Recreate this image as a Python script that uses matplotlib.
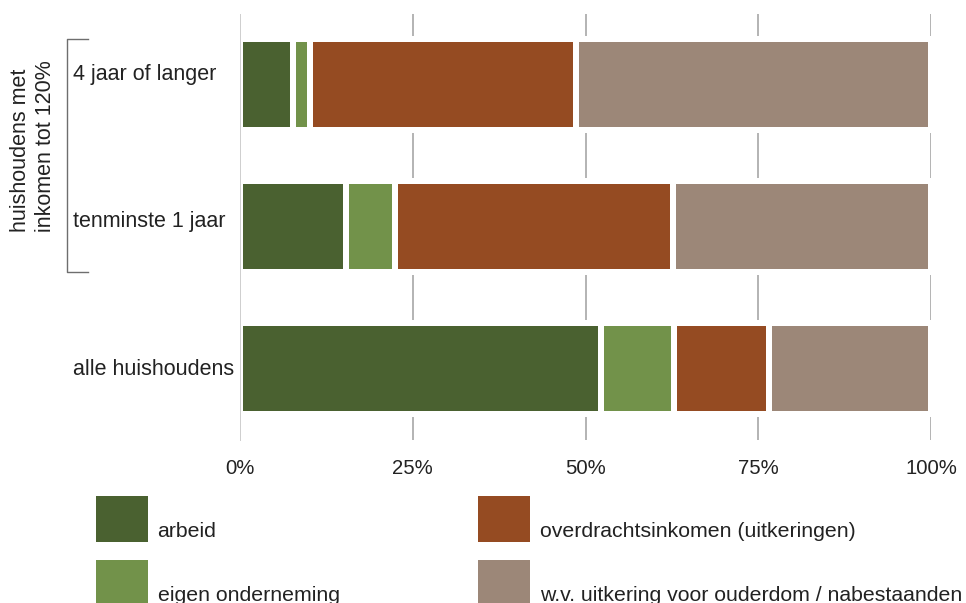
import matplotlib
matplotlib.use('Agg')
import matplotlib.pyplot as plt
from matplotlib.patches import Rectangle
from matplotlib.lines import Line2D

# ---- data ----
categories = ['4 jaar of langer', 'tenminste 1 jaar', 'alle huishoudens']
series_names = ['arbeid', 'eigen onderneming',
                'overdrachtsinkomen (uitkeringen)',
                'w.v. uitkering voor ouderdom / nabestaanden']
arbeid = [7.6, 15.3, 52.2]
eigen = [2.6, 7.1, 10.6]
overdracht = [38.4, 40.3, 13.8]
ouderdom = [51.4, 37.3, 23.4]
xticks = [0, 25, 50, 75, 100]
xtick_labels = ['0%', '25%', '50%', '75%', '100%']
group_label = 'huishoudens met\ninkomen tot 120%'

# ---- style ----
colors = ['#4a6130', '#72924a', '#954b22', '#9c8778']
plt.rcParams['font.family'] = ['Liberation Sans', 'DejaVu Sans']
TXT = '#222222'
W, H = 966, 603
PX = 72 / 100  # points per pixel

fig = plt.figure(figsize=(W / 100, H / 100), dpi=100)
ax = fig.add_axes([240 / W, 1 - 439.5 / H, 691 / W, 426 / H])

ypos = list(range(len(categories)))
bar_h = 0.634
series = [arbeid, eigen, overdracht, ouderdom]
left = [0.0] * len(categories)
for vals, col, name in zip(series, colors, series_names):
    ax.barh(ypos, vals, left=left, height=bar_h, color=col,
            edgecolor='white', linewidth=6 * PX, label=name, zorder=2)
    left = [l + v for l, v in zip(left, vals)]

ax.set_xlim(0, 100)
ax.set_ylim(len(categories) - 0.5, -0.5)

# gridline segments only in the gaps between bars
margin = bar_h / 2 + 0.023
bounds = [-0.5]
for y in ypos:
    bounds += [y - margin, y + margin]
bounds.append(len(categories) - 0.5)
for i in range(0, len(bounds), 2):
    ax.vlines(xticks, bounds[i], bounds[i + 1], color='#a3a3a3',
              linewidth=1.6 * PX, zorder=1)

for s in ['top', 'right', 'bottom']:
    ax.spines[s].set_visible(False)
ax.spines['left'].set_color('#cfcfcf')
ax.spines['left'].set_linewidth(1.0 * PX)
ax.spines['left'].set_zorder(3)

ax.set_xticks(xticks)
ax.set_xticklabels(xtick_labels)
ax.tick_params(axis='x', length=0, pad=14, labelsize=14.6, labelcolor=TXT)
ax.set_yticks([])

# category labels (left aligned)
label_baselines = [80, 227.3, 375]
for cat, yb in zip(categories, label_baselines):
    fig.text(73 / W, 1 - yb / H, cat, ha='left', va='baseline',
             fontsize=15.5, color=TXT)

# bracket + group label
fig.add_artist(Line2D([88 / W, 67 / W, 67 / W, 88 / W],
                      [1 - 39 / H, 1 - 39 / H, 1 - 272 / H, 1 - 272 / H],
                      transform=fig.transFigure, color='#6e6e6e', lw=1.0))
fig.text(33 / W, 1 - 146 / H, group_label, rotation=90, ha='center',
         va='center', multialignment='left', fontsize=15.5, color=TXT,
         linespacing=1.3)

# legend
leg_x = [95.5, 95.5, 477.5, 477.5]
leg_top = [496, 560, 496, 560]
txt_x = [157.5, 157.5, 540, 540]
txt_base = [536.7, 600.7, 536.7, 600.7]
for name, col, lx, lt, tx, tb in zip(series_names, colors, leg_x, leg_top,
                                     txt_x, txt_base):
    fig.add_artist(Rectangle((lx / W, 1 - (lt + 46) / H), 52.5 / W, 46 / H,
                             transform=fig.transFigure, facecolor=col,
                             edgecolor='none'))
    fig.text(tx / W, 1 - tb / H, name, ha='left', va='baseline',
             fontsize=15.3, color=TXT)

fig.savefig('out.png', dpi=100)
